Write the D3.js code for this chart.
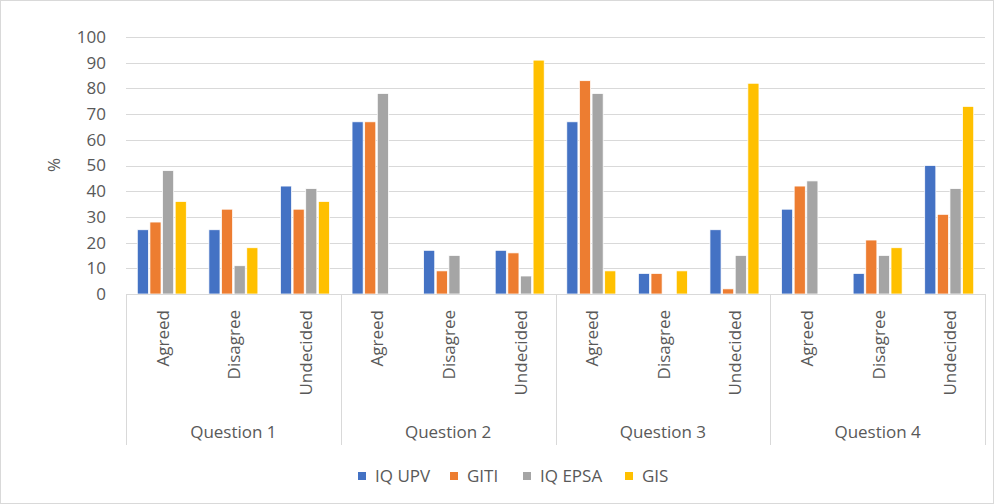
<!DOCTYPE html>
<html>
<head>
<meta charset="utf-8">
<script src="https://cdn.jsdelivr.net/npm/d3@7"></script>
<style>
  html, body { margin: 0; padding: 0; background: #fff; }
  svg text { font-family: "Open Sans", "Noto Sans", sans-serif; fill: #595959; }
</style>
</head>
<body>
<div id="chart"></div>
<script>
const width = 995;
const height = 504;

// Data
const questions = ["Question 1", "Question 2", "Question 3", "Question 4"];
const answers = ["Agreed", "Disagree", "Undecided"];
const seriesNames = ["IQ UPV", "GITI", "IQ EPSA", "GIS"];
const seriesColors = ["#4472C4", "#ED7D31", "#A5A5A5", "#FFC000"];
const yTicks = [0, 10, 20, 30, 40, 50, 60, 70, 80, 90, 100];

// values per series, in order Q1 (A, D, U), Q2 (A, D, U), Q3 ..., Q4 ...
const iqUpv  = [25, 25, 42, 67, 17, 17, 67, 8, 25, 33, 8, 50];
const giti   = [28, 33, 33, 67, 9, 16, 83, 8, 2, 42, 21, 31];
const iqEpsa = [48, 11, 41, 78, 15, 7, 78, 0, 15, 44, 15, 41];
const gis    = [36, 18, 36, 0, 0, 91, 9, 9, 82, 0, 18, 73];
const seriesValues = [iqUpv, giti, iqEpsa, gis];

const plot = { left: 126, right: 985, top: 37, bottom: 294 };
const fontSize = "17px";

const svg = d3.select("#chart")
    .append("svg")
    .attr("width", width)
    .attr("height", height);

// outer frame
svg.append("rect")
    .attr("x", 0.5).attr("y", 0.5)
    .attr("width", width - 2).attr("height", height - 1)
    .attr("fill", "#fff")
    .attr("stroke", "#d9d9d9");

const y = d3.scaleLinear().domain([0, 100]).range([plot.bottom, plot.top]);
const xGroup = d3.scaleBand().domain(questions).range([plot.left, plot.right]).padding(0);
const xCat = d3.scaleBand().domain(answers).range([0, xGroup.bandwidth()]).padding(0);
const xSeries = d3.scaleBand().domain(seriesNames).range([-24.5, 24.5]).paddingInner(0.12);

// gridlines
svg.append("g")
    .selectAll("line")
    .data(yTicks.filter(d => d > 0))
    .join("line")
    .attr("x1", plot.left).attr("x2", plot.right)
    .attr("y1", d => Math.round(y(d)) + 0.5)
    .attr("y2", d => Math.round(y(d)) + 0.5)
    .attr("stroke", "#d9d9d9")
    .attr("stroke-width", 1);

// y tick labels
svg.append("g")
    .selectAll("text")
    .data(yTicks)
    .join("text")
    .attr("x", 106)
    .attr("y", d => y(d))
    .attr("dy", "0.35em")
    .attr("text-anchor", "end")
    .style("font-size", fontSize)
    .text(d => d);

// y axis title
svg.append("text")
    .attr("transform", "translate(54,165) rotate(-90)")
    .attr("text-anchor", "middle")
    .attr("dy", "0.35em")
    .style("font-size", fontSize)
    .text("%");

// flatten data into bars
const bars = [];
questions.forEach((q, qi) => {
    answers.forEach((a, ai) => {
        seriesNames.forEach((s, si) => {
            bars.push({ q, a, s, si, value: seriesValues[si][qi * answers.length + ai] });
        });
    });
});

const catCenter = (q, a) => xGroup(q) + xCat(a) + xCat.bandwidth() / 2;

svg.append("g")
    .selectAll("rect")
    .data(bars.filter(d => d.value > 0))
    .join("rect")
    .attr("x", d => catCenter(d.q, d.a) + xSeries(d.s))
    .attr("y", d => y(d.value))
    .attr("width", xSeries.bandwidth())
    .attr("height", d => y(0) - y(d.value))
    .attr("fill", d => seriesColors[d.si])
    .attr("stroke", "#fff")
    .attr("stroke-width", 0.75);

// category axis: baseline and separators
const axisG = svg.append("g");
axisG.append("line")
    .attr("x1", plot.left).attr("x2", plot.right)
    .attr("y1", plot.bottom + 0.5).attr("y2", plot.bottom + 0.5)
    .attr("stroke", "#d9d9d9");

const seps = questions.map(q => xGroup(q)).concat([plot.right]);
axisG.selectAll("line.sep")
    .data(seps)
    .join("line")
    .attr("class", "sep")
    .attr("x1", d => Math.round(d) + 0.5).attr("x2", d => Math.round(d) + 0.5)
    .attr("y1", plot.bottom).attr("y2", 445)
    .attr("stroke", "#d9d9d9");

// answer labels (rotated)
const catLabels = [];
questions.forEach(q => answers.forEach(a => catLabels.push({ q, a })));
axisG.selectAll("text.cat")
    .data(catLabels)
    .join("text")
    .attr("class", "cat")
    .attr("transform", d => `translate(${catCenter(d.q, d.a) + 1},310) rotate(-90)`)
    .attr("text-anchor", "end")
    .attr("dy", "0.35em")
    .style("font-size", fontSize)
    .text(d => d.a);

// question labels
axisG.selectAll("text.grp")
    .data(questions)
    .join("text")
    .attr("class", "grp")
    .attr("x", d => xGroup(d) + xGroup.bandwidth() / 2)
    .attr("y", 432)
    .attr("dy", "0.35em")
    .attr("text-anchor", "middle")
    .style("font-size", fontSize)
    .text(d => d);

// legend
const legendX = [358, 450, 523, 625];
const legend = svg.append("g")
    .selectAll("g")
    .data(seriesNames)
    .join("g")
    .attr("transform", (d, i) => `translate(${legendX[i]},476)`);
legend.append("rect")
    .attr("x", 0).attr("y", -4)
    .attr("width", 8).attr("height", 8)
    .attr("fill", (d, i) => seriesColors[i]);
legend.append("text")
    .attr("x", 17)
    .attr("dy", "0.35em")
    .style("font-size", fontSize)
    .text(d => d);
</script>
</body>
</html>
